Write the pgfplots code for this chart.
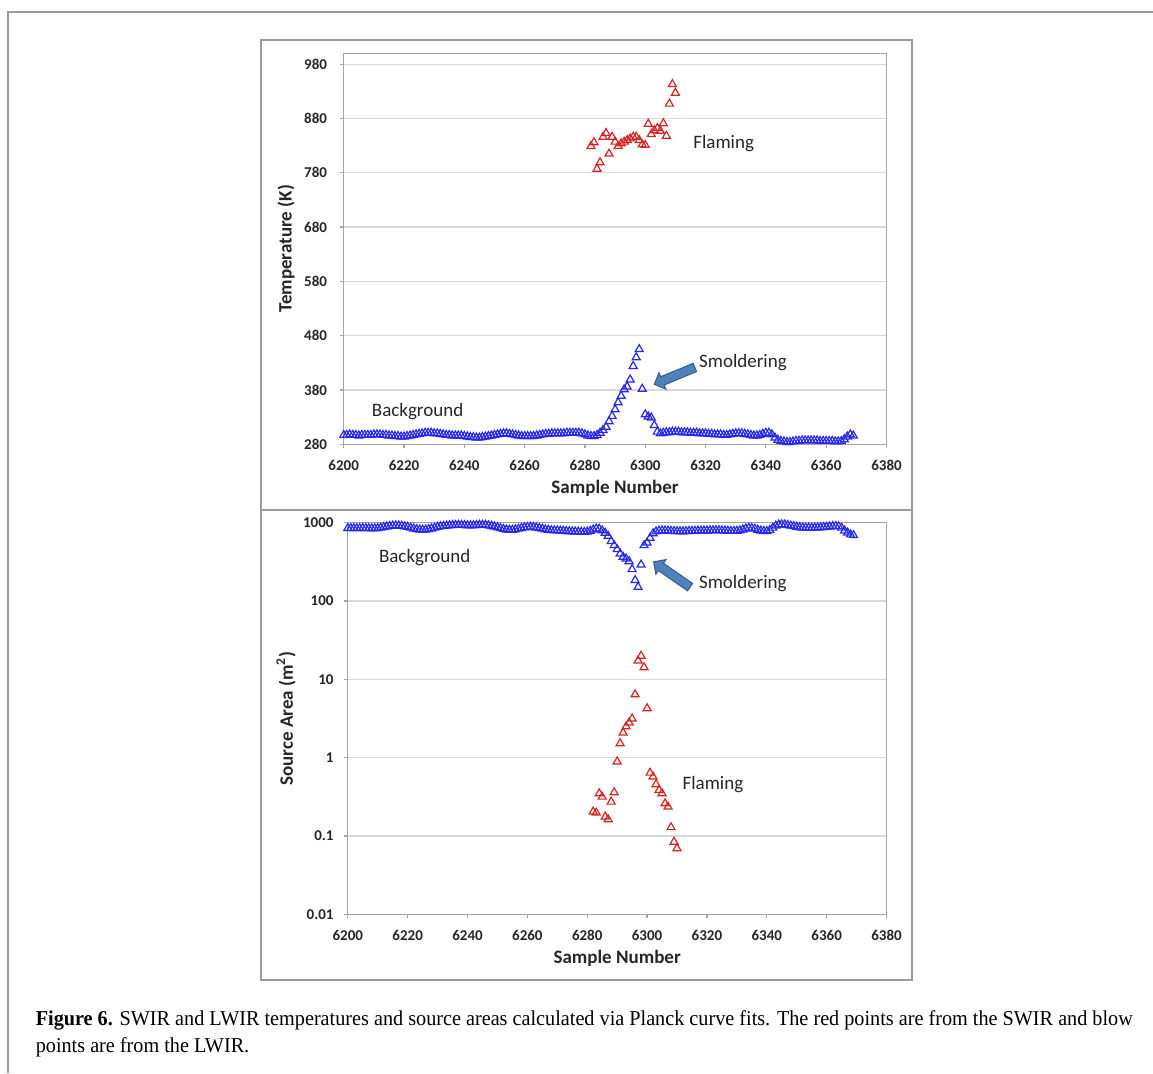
\documentclass[border=0pt]{standalone}
\usepackage{pgfplots}
\pgfplotsset{compat=1.18}
\usepackage{graphicx}
\usepackage{fontspec}
\usetikzlibrary{shapes.arrows}
\newfontfamily\calibri{Carlito}
\newfontfamily\capfont{Liberation Serif}
\definecolor{markblue}{RGB}{40,40,235}
\definecolor{markred}{RGB}{215,35,35}
\definecolor{gridgray}{RGB}{217,217,217}
\definecolor{axisgray}{RGB}{165,165,165}
\definecolor{framegray}{RGB}{155,155,155}
\definecolor{arrowblue}{RGB}{79,129,189}
\definecolor{arrowdark}{RGB}{56,93,138}
\newcommand\tickfont{\calibri\bfseries\fontsize{7.5}{9}\selectfont}
\newcommand\labelfont{\calibri\bfseries\fontsize{9.5}{11}\selectfont}
\newcommand\annfont{\calibri\fontsize{9.5}{11}\selectfont}
\newcommand\capone{\capfont\fontsize{10.6}{12}\selectfont\textbf{Figure 6.} SWIR and LWIR temperatures and source areas calculated via Planck curve fits. The red points are from the SWIR and blow}
\newcommand\captwo{\capfont\fontsize{10.6}{12}\selectfont points are from the LWIR.}
\newlength\capw
\pgfplotsset{
  common/.style={
    scale only axis, clip=false,
    xmin=6200, xmax=6380, xtick={6200,6220,...,6380},
    ymajorgrids, grid style={draw=gridgray, line width=0.6pt},
    axis line style={draw=axisgray, line width=0.6pt},
    tick style={draw=axisgray, line width=0.6pt},
    tick align=outside, tick pos=left, major tick length=2pt,
    ticklabel style={font=\tickfont, text=black!85},
    /pgf/number format/assume math mode=true,
    /pgf/number format/1000 sep={},
    scaled ticks=false,
    label style={font=\labelfont, text=black!85},
    xticklabel style={yshift=-2.3pt},
  },
  bmark/.style={only marks, mark=triangle, mark size=2.3pt, color=markblue, mark options={line width=0.6pt}},
  rmark/.style={only marks, mark=triangle, mark size=2.3pt, color=markred, mark options={line width=0.6pt}},
}
\begin{document}
\settowidth\capw{\capone}%
\pgfmathsetmacro\capfac{548.5/\capw}%
\begin{tikzpicture}
\useasboundingbox (0,0) rectangle (576.5pt,536.5pt);
\fill[white] (0,0) rectangle (576.5pt,536.5pt);
% page frame
\draw[framegray, line width=0.7pt] (4pt,0) -- (4pt,530.5pt) -- (576.5pt,530.5pt);
% chart frames
\draw[framegray, line width=0.6pt] (130.5pt,281.5pt) rectangle (456pt,516.5pt);
\draw[framegray, line width=0.6pt] (130.5pt,46.5pt) rectangle (456pt,281.5pt);

% ---------------- top panel
\begin{axis}[common,
  at={(171.85pt,314.35pt)}, anchor=south west,
  width=271.4pt, height=195.5pt,
  ymin=280, ymax=1000, ytick={280,380,...,980},
  yticklabel style={xshift=-2.8pt},
  xlabel={Sample Number}, ylabel={Temperature (K)},
  xlabel style={at={(axis description cs:0.5,-0.1118)}, anchor=center},
  ylabel style={at={(axis description cs:-0.1063,0.5)}, anchor=center},
]
\addplot[bmark] coordinates {
(6200,297)(6201,297)(6202,298)(6203,297)(6204,297)(6205,296)(6206,297)(6207,297)(6208,297)(6209,297)
(6210,298)(6211,298)(6212,298)(6213,297)(6214,297)(6215,296)(6216,296)(6217,295)(6218,295)(6219,294)
(6220,294)(6221,295)(6222,296)(6223,297)(6224,298)(6225,299)(6226,300)(6227,301)(6228,301)(6229,301)
(6230,300)(6231,300)(6232,299)(6233,298)(6234,297)(6235,297)(6236,296)(6237,296)(6238,296)(6239,296)
(6240,295)(6241,294)(6242,293)(6243,293)(6244,292)(6245,292)(6246,293)(6247,294)(6248,295)(6249,296)
(6250,297)(6251,298)(6252,299)(6253,300)(6254,300)(6255,299)(6256,298)(6257,297)(6258,296)(6259,295)
(6260,295)(6261,295)(6262,295)(6263,295)(6264,296)(6265,297)(6266,298)(6267,299)(6268,299)(6269,300)
(6270,300)(6271,300)(6272,300)(6273,300)(6274,301)(6275,301)(6276,301)(6277,301)(6278,301)(6279,300)
(6280,298)(6281,296)(6282,295)(6283,295)(6284,297)(6285,301)(6286,306)(6287,312)(6288,322)(6289,332)
(6290,344)(6291,357)(6292,369)(6293,381)(6294,386)(6295,399)(6296,424)(6297,440)(6298,455)(6299,382)
(6300,335)(6301,331)(6302,329)(6303,315)(6304,303)(6305,300)(6306,301)(6307,302)(6308,302)(6309,303)
(6310,303)(6311,303)(6312,302)(6313,302)(6314,302)(6315,301)(6316,301)(6317,301)(6318,300)(6319,300)
(6320,300)(6321,299)(6322,299)(6323,298)(6324,298)(6325,298)(6326,297)(6327,297)(6328,298)(6329,299)
(6330,300)(6331,300)(6332,300)(6333,299)(6334,298)(6335,297)(6336,296)(6337,296)(6338,297)(6339,299)
(6340,301)(6341,301)(6342,298)(6343,292)(6344,288)(6345,286)(6346,285)(6347,284)(6348,284)(6349,285)
(6350,286)(6351,286)(6352,287)(6353,287)(6354,287)(6355,287)(6356,287)(6357,287)(6358,286)(6359,286)
(6360,286)(6361,286)(6362,286)(6363,285)(6364,285)(6365,286)(6366,289)(6367,294)(6368,298)(6369,296)
};
\addplot[rmark] coordinates {
(6282,829)(6283,836)(6284,787)(6285,799)(6286,846)(6287,853)(6288,815)(6289,846)(6290,837)(6291,829)
(6292,834)(6293,837)(6294,840)(6295,843)(6296,846)(6297,846)(6298,840)(6299,832)(6300,831)(6301,870)
(6302,851)(6303,858)(6304,862)(6305,857)(6306,871)(6307,848)(6308,907)(6309,943)(6310,927)
};
\node[font=\annfont, text=black!85] at (axis cs:6326,833) {Flaming};
\node[font=\annfont, text=black!85] at (axis cs:6224.5,339.5) {Background};
\node[font=\annfont, text=black!85] at (axis cs:6332.4,430) {Smoldering};
\node[single arrow, draw=arrowdark, fill=arrowblue, line width=0.5pt, inner sep=2pt,
      minimum width=8.5pt, minimum height=22pt, single arrow head extend=2.2pt, rotate=202.5]
  at (axis cs:6310.4,407.6) {};
\end{axis}

% ---------------- bottom panel
\begin{axis}[common,
  at={(173.9pt,79.35pt)}, anchor=south west,
  width=269.35pt, height=195.8pt,
  ymode=log, ymin=0.01, ymax=1000,
  ytick={0.01,0.1,1,10,100,1000}, yticklabels={0.01,0.1,1,10,100,1000},
  yminorticks=false,
  yticklabel style={xshift=-1.6pt},
  xlabel={Sample Number}, ylabel={Source Area (m\textsuperscript{2})},
  xlabel style={at={(axis description cs:0.5,-0.1124)}, anchor=center},
  ylabel style={at={(axis description cs:-0.1147,0.5)}, anchor=center},
]
\addplot[bmark] coordinates {
(6200,850)(6201,850)(6202,848)(6203,848)(6204,850)(6205,852)(6206,850)(6207,848)(6208,846)(6209,846)
(6210,850)(6211,860)(6212,875)(6213,890)(6214,905)(6215,915)(6216,920)(6217,918)(6218,910)(6219,895)
(6220,880)(6221,860)(6222,840)(6223,825)(6224,815)(6225,812)(6226,815)(6227,825)(6228,840)(6229,860)
(6230,880)(6231,895)(6232,905)(6233,915)(6234,922)(6235,928)(6236,932)(6237,935)(6238,932)(6239,928)
(6240,925)(6241,922)(6242,925)(6243,930)(6244,935)(6245,938)(6246,935)(6247,925)(6248,910)(6249,890)
(6250,870)(6251,850)(6252,830)(6253,815)(6254,808)(6255,810)(6256,820)(6257,835)(6258,852)(6259,868)
(6260,878)(6261,880)(6262,875)(6263,865)(6264,850)(6265,835)(6266,820)(6267,808)(6268,800)(6269,795)
(6270,795)(6271,790)(6272,785)(6273,780)(6274,775)(6275,770)(6276,768)(6277,765)(6278,762)(6279,760)
(6280,765)(6281,785)(6282,815)(6283,840)(6284,835)(6285,795)(6286,740)(6287,676)(6288,578)(6289,514)
(6290,457)(6291,402)(6292,365)(6293,347)(6294,321)(6295,254)(6296,184)(6297,151)(6298,291)(6299,514)
(6300,556)(6301,638)(6302,730)(6303,770)(6304,790)(6305,795)(6306,792)(6307,788)(6308,782)(6309,778)
(6310,776)(6311,775)(6312,775)(6313,778)(6314,780)(6315,782)(6316,785)(6317,788)(6318,790)(6319,792)
(6320,792)(6321,795)(6322,798)(6323,800)(6324,798)(6325,795)(6326,790)(6327,785)(6328,782)(6329,782)
(6330,785)(6331,795)(6332,815)(6333,840)(6334,855)(6335,850)(6336,835)(6337,810)(6338,790)(6339,780)
(6340,780)(6341,805)(6342,860)(6343,915)(6344,945)(6345,952)(6346,945)(6347,930)(6348,915)(6349,900)
(6350,885)(6351,872)(6352,865)(6353,862)(6354,860)(6355,860)(6356,862)(6357,865)(6358,870)(6359,875)
(6360,880)(6361,890)(6362,900)(6363,905)(6364,895)(6365,860)(6366,790)(6367,745)(6368,705)(6369,690)
};
\addplot[rmark] coordinates {
(6282,0.204)(6283,0.198)(6284,0.35)(6285,0.316)(6286,0.176)(6287,0.163)(6288,0.273)(6289,0.36)
(6290,0.89)(6291,1.52)(6292,2.08)(6293,2.5)(6294,2.8)(6295,3.15)(6296,6.4)(6297,17.3)(6298,19.9)
(6299,14.2)(6300,4.26)(6301,0.64)(6302,0.57)(6303,0.456)(6304,0.385)(6305,0.35)(6306,0.26)
(6307,0.236)(6308,0.129)(6309,0.084)(6310,0.0695)
};
\node[font=\annfont, text=black!85] at (axis cs:6225.7,361) {Background};
\node[font=\annfont, text=black!85] at (axis cs:6332,168) {Smoldering};
\node[font=\annfont, text=black!85] at (axis cs:6322,0.448) {Flaming};
\node[single arrow, draw=arrowdark, fill=arrowblue, line width=0.5pt, inner sep=2pt,
      minimum width=8.5pt, minimum height=22.2pt, single arrow head extend=2.2pt, rotate=145.2]
  at (axis cs:6308.9,210) {};
\end{axis}

% ---------------- caption
\node[anchor=base west, inner sep=0pt] at (17.7pt,23.65pt)
  {\scalebox{\capfac}[1]{\capone}};
\node[anchor=base west, inner sep=0pt] at (17.7pt,10.5pt)
  {\scalebox{\capfac}[1]{\captwo}};
\end{tikzpicture}
\end{document}
